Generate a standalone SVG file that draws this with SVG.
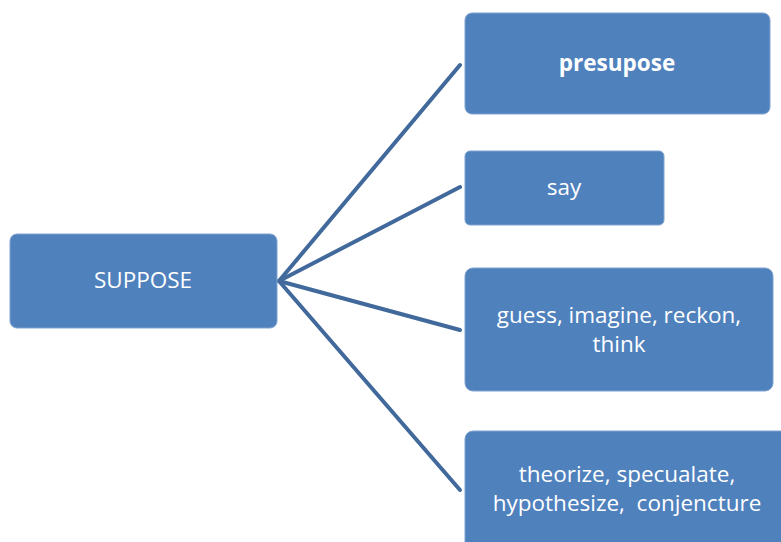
<svg xmlns="http://www.w3.org/2000/svg" width="781" height="542" viewBox="0 0 781 542">
<style>
.box{fill:#4f81bd;stroke:#7fa3d0;stroke-width:1}
.t{font-family:"Open Sans","Liberation Sans",sans-serif;font-size:22.5px;fill:#ffffff;text-anchor:middle}
.b{font-weight:bold}
.c{stroke:#41699b;stroke-width:4;fill:none;stroke-linecap:round}
</style>
<rect width="781" height="542" fill="#ffffff"/>
<g id="connectors">
<line class="c" x1="279" y1="281" x2="460" y2="65"/>
<line class="c" x1="279" y1="281" x2="460" y2="187"/>
<line class="c" x1="279" y1="281" x2="460" y2="330"/>
<line class="c" x1="279" y1="281" x2="460" y2="490"/>
</g>
<g id="suppose">
<rect class="box" x="10" y="234" width="267" height="94" rx="7"/>
<text class="t" x="143" y="288">SUPPOSE</text>
</g>
<g id="presupose">
<rect class="box" x="465" y="13" width="305" height="101" rx="7"/>
<text class="t b" x="617" y="71">presupose</text>
</g>
<g id="say">
<rect class="box" x="465" y="151" width="199" height="74" rx="5"/>
<text class="t" x="564" y="195">say</text>
</g>
<g id="guess">
<rect class="box" x="465" y="268" width="308" height="123" rx="8"/>
<text class="t" x="619" y="323">guess, imagine, reckon,</text>
<text class="t" x="619" y="352">think</text>
</g>
<g id="theorize">
<rect class="box" x="465" y="431" width="330" height="130" rx="8"/>
<text class="t" x="627" y="482">theorize, specualate,</text>
<text class="t" x="627" y="511" xml:space="preserve">hypothesize,  conjencture</text>
</g>
</svg>
